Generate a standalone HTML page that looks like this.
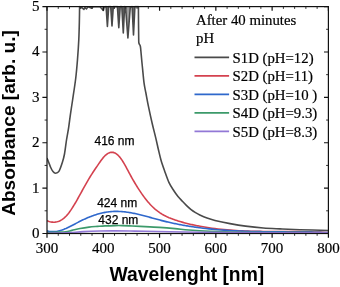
<!DOCTYPE html>
<html><head><meta charset="utf-8"><style>
html,body{margin:0;padding:0;background:#fff;width:340px;height:287px;overflow:hidden}
svg{display:block;will-change:transform}
</style></head><body>
<svg width="340" height="287" viewBox="0 0 340 287">
<defs><clipPath id="c"><rect x="47.0" y="5.6" width="281.4" height="227.9"/></clipPath></defs>
<g clip-path="url(#c)" fill="none" stroke-width="1.60" stroke-linejoin="round">
<path d="M47.00,158.10 C47.60,159.62 49.60,164.95 50.60,167.20 C51.60,169.45 52.18,170.60 53.00,171.60 C53.82,172.60 54.52,173.23 55.50,173.20 C56.48,173.17 57.75,173.22 58.90,171.40 C60.05,169.58 61.47,165.20 62.40,162.30 C63.33,159.40 63.82,157.72 64.50,154.00 C65.18,150.28 65.82,144.35 66.50,140.00 C67.18,135.65 67.93,132.25 68.60,127.90 C69.27,123.55 69.83,118.55 70.50,113.90 C71.17,109.25 71.73,105.90 72.60,100.00 C73.47,94.10 74.88,85.25 75.70,78.50 C76.52,71.75 76.98,66.00 77.50,59.50 C78.02,53.00 78.48,46.08 78.80,39.50 C79.12,32.92 79.27,25.48 79.40,20.00 C79.53,14.52 79.57,8.83 79.60,6.60 L79.60,6.60 L80.10,8.20 L81.00,6.80 L83.90,9.40 L85.00,7.50 L86.50,8.90 L88.00,6.80 L91.90,8.20 L93.00,6.80 L100.00,6.80 L102.50,9.50 L103.30,10.50 L104.20,7.00 L106.10,6.60 L107.40,26.50 L108.70,6.60 L110.70,6.60 L112.00,25.90 L113.30,6.60 L117.40,6.60 L118.80,27.60 L120.20,6.60 L121.80,6.60 L123.30,33.00 L124.60,6.60 L125.50,6.80 L127.90,38.00 L130.30,7.00 L132.10,6.60 L133.50,35.00 L134.90,6.60 L138.40,6.60 L138.40,6.60 C138.42,8.83 138.45,14.77 138.50,20.00 C138.55,25.23 138.63,34.17 138.70,38.00 C138.77,41.83 138.65,41.70 138.90,43.00 C139.15,44.30 139.90,44.80 140.20,45.80 C140.50,46.80 140.45,46.63 140.70,49.00 C140.95,51.37 141.40,56.83 141.70,60.00 C142.00,63.17 142.10,64.10 142.50,68.00 C142.90,71.90 143.53,79.23 144.10,83.40 C144.67,87.57 145.17,89.12 145.90,93.00 C146.63,96.88 147.45,101.62 148.50,106.70 C149.55,111.78 150.98,118.27 152.20,123.50 C153.42,128.73 154.75,133.68 155.80,138.10 C156.85,142.52 157.62,146.27 158.50,150.00 C159.38,153.73 160.08,157.02 161.10,160.50 C162.12,163.98 163.30,167.27 164.60,170.90 C165.90,174.53 167.38,179.03 168.90,182.30 C170.42,185.57 172.18,188.13 173.70,190.50 C175.22,192.87 176.55,194.70 178.00,196.50 C179.45,198.30 180.97,199.78 182.40,201.30 C183.83,202.82 185.15,204.22 186.60,205.60 C188.05,206.98 189.62,208.43 191.10,209.60 C192.58,210.77 194.05,211.70 195.50,212.60 C196.95,213.50 197.88,214.08 199.80,215.00 C201.72,215.92 204.47,217.18 207.00,218.10 C209.53,219.02 211.17,219.58 215.00,220.50 C218.83,221.42 224.90,222.67 230.00,223.60 C235.10,224.53 240.05,225.37 245.60,226.10 C251.15,226.83 257.57,227.53 263.30,228.00 C269.03,228.47 273.88,228.62 280.00,228.90 C286.12,229.18 291.93,229.43 300.00,229.70 C308.07,229.97 323.67,230.37 328.40,230.50" stroke="#4a4a4a"/>
<path d="M47.00,220.69 L48.00,221.09 L49.00,221.43 L50.00,221.71 L51.00,221.93 L52.00,222.09 L53.00,222.17 L54.00,222.19 L55.00,222.13 L56.00,222.01 L57.00,221.80 L58.00,221.52 L59.00,221.16 L60.00,220.71 L61.00,220.19 L62.00,219.57 L63.00,218.87 L64.00,218.07 L65.00,217.18 L66.00,216.20 L67.00,215.12 L68.00,213.94 L69.00,212.67 L70.00,211.31 L71.00,209.88 L72.00,208.37 L73.00,206.80 L74.00,205.18 L75.00,203.50 L76.00,201.78 L77.00,200.03 L78.00,198.25 L79.00,196.45 L80.00,194.63 L81.00,192.81 L82.00,190.99 L83.00,189.18 L84.00,187.38 L85.00,185.59 L86.00,183.83 L87.00,182.08 L88.00,180.36 L89.00,178.68 L90.00,177.02 L91.00,175.40 L92.00,173.82 L93.00,172.28 L94.00,170.77 L95.00,169.28 L96.00,167.80 L97.00,166.33 L98.00,164.86 L99.00,163.39 L100.00,161.93 L101.00,160.51 L102.00,159.16 L103.00,157.89 L104.00,156.73 L105.00,155.70 L106.00,154.80 L107.00,154.03 L108.00,153.39 L109.00,152.90 L110.00,152.55 L111.00,152.34 L112.00,152.29 L113.00,152.39 L114.00,152.64 L115.00,153.05 L116.00,153.61 L117.00,154.33 L118.00,155.20 L119.00,156.21 L120.00,157.38 L121.00,158.70 L122.00,160.15 L123.00,161.73 L124.00,163.40 L125.00,165.15 L126.00,166.97 L127.00,168.82 L128.00,170.69 L129.00,172.56 L130.00,174.42 L131.00,176.24 L132.00,178.03 L133.00,179.80 L134.00,181.52 L135.00,183.22 L136.00,184.88 L137.00,186.51 L138.00,188.10 L139.00,189.66 L140.00,191.18 L141.00,192.66 L142.00,194.10 L143.00,195.51 L144.00,196.87 L145.00,198.20 L146.00,199.48 L147.00,200.72 L148.00,201.92 L149.00,203.07 L150.00,204.18 L151.00,205.25 L152.00,206.27 L153.00,207.24 L154.00,208.17 L155.00,209.05 L156.00,209.89 L157.00,210.69 L158.00,211.45 L159.00,212.17 L160.00,212.86 L161.00,213.51 L162.00,214.13 L163.00,214.71 L164.00,215.27 L165.00,215.80 L166.00,216.31 L167.00,216.79 L168.00,217.24 L169.00,217.68 L170.00,218.09 L171.00,218.49 L172.00,218.87 L173.00,219.24 L174.00,219.59 L175.00,219.94 L176.00,220.27 L177.00,220.59 L178.00,220.91 L179.00,221.22 L180.00,221.52 L181.00,221.82 L182.00,222.11 L183.00,222.39 L184.00,222.66 L185.00,222.93 L186.00,223.19 L187.00,223.44 L188.00,223.69 L189.00,223.94 L190.00,224.17 L191.00,224.41 L192.00,224.63 L193.00,224.85 L194.00,225.07 L195.00,225.28 L196.00,225.49 L197.00,225.69 L198.00,225.89 L199.00,226.08 L200.00,226.27 L203.00,226.81 L206.00,227.31 L209.00,227.77 L212.00,228.20 L215.00,228.60 L218.00,228.96 L221.00,229.29 L224.00,229.59 L227.00,229.87 L230.00,230.11 L233.00,230.33 L236.00,230.53 L239.00,230.70 L242.00,230.86 L245.00,230.99 L248.00,231.10 L251.00,231.20 L254.00,231.29 L257.00,231.36 L260.00,231.41 L263.00,231.46 L266.00,231.49 L269.00,231.52 L272.00,231.54 L275.00,231.56 L278.00,231.57 L281.00,231.58 L284.00,231.59 L287.00,231.60 L290.00,231.61 L293.00,231.63 L296.00,231.65 L299.00,231.67 L302.00,231.71 L305.00,231.75 L308.00,231.80 L311.00,231.87 L314.00,231.95 L317.00,232.04 L320.00,232.15 L323.00,232.28 L326.00,232.43 L328.40,232.56" stroke="#d4424f"/>
<path d="M47.00,230.84 L48.00,231.11 L49.00,231.32 L50.00,231.48 L51.00,231.59 L52.00,231.65 L53.00,231.66 L54.00,231.63 L55.00,231.56 L56.00,231.44 L57.00,231.29 L58.00,231.09 L59.00,230.86 L60.00,230.60 L61.00,230.31 L62.00,229.99 L63.00,229.63 L64.00,229.26 L65.00,228.85 L66.00,228.43 L67.00,227.98 L68.00,227.52 L69.00,227.04 L70.00,226.54 L71.00,226.04 L72.00,225.52 L73.00,225.00 L74.00,224.47 L75.00,223.94 L76.00,223.41 L77.00,222.88 L78.00,222.35 L79.00,221.83 L80.00,221.32 L81.00,220.81 L82.00,220.32 L83.00,219.84 L84.00,219.37 L85.00,218.91 L86.00,218.46 L87.00,218.03 L88.00,217.60 L89.00,217.19 L90.00,216.79 L91.00,216.41 L92.00,216.03 L93.00,215.67 L94.00,215.32 L95.00,214.98 L96.00,214.66 L97.00,214.35 L98.00,214.06 L99.00,213.78 L100.00,213.51 L101.00,213.26 L102.00,213.03 L103.00,212.80 L104.00,212.60 L105.00,212.41 L106.00,212.23 L107.00,212.07 L108.00,211.93 L109.00,211.80 L110.00,211.69 L111.00,211.60 L112.00,211.52 L113.00,211.46 L114.00,211.41 L115.00,211.39 L116.00,211.37 L117.00,211.38 L118.00,211.40 L119.00,211.43 L120.00,211.48 L121.00,211.54 L122.00,211.61 L123.00,211.70 L124.00,211.80 L125.00,211.91 L126.00,212.03 L127.00,212.17 L128.00,212.31 L129.00,212.47 L130.00,212.63 L131.00,212.80 L132.00,212.99 L133.00,213.18 L134.00,213.38 L135.00,213.59 L136.00,213.80 L137.00,214.03 L138.00,214.26 L139.00,214.49 L140.00,214.73 L141.00,214.98 L142.00,215.23 L143.00,215.48 L144.00,215.74 L145.00,216.01 L146.00,216.27 L147.00,216.54 L148.00,216.81 L149.00,217.08 L150.00,217.36 L151.00,217.63 L152.00,217.91 L153.00,218.19 L154.00,218.46 L155.00,218.74 L156.00,219.01 L157.00,219.29 L158.00,219.56 L159.00,219.83 L160.00,220.09 L161.00,220.36 L162.00,220.61 L163.00,220.87 L164.00,221.12 L165.00,221.37 L166.00,221.61 L167.00,221.85 L168.00,222.09 L169.00,222.32 L170.00,222.55 L171.00,222.77 L172.00,222.99 L173.00,223.21 L174.00,223.42 L175.00,223.63 L176.00,223.84 L177.00,224.04 L178.00,224.24 L179.00,224.44 L180.00,224.63 L181.00,224.82 L182.00,225.00 L183.00,225.19 L184.00,225.37 L185.00,225.54 L186.00,225.71 L187.00,225.88 L188.00,226.05 L189.00,226.21 L190.00,226.37 L191.00,226.53 L192.00,226.68 L193.00,226.83 L194.00,226.98 L195.00,227.12 L196.00,227.26 L197.00,227.40 L198.00,227.54 L199.00,227.67 L200.00,227.80 L203.00,228.17 L206.00,228.52 L209.00,228.85 L212.00,229.15 L215.00,229.43 L218.00,229.69 L221.00,229.93 L224.00,230.15 L227.00,230.36 L230.00,230.54 L233.00,230.71 L236.00,230.87 L239.00,231.01 L242.00,231.13 L245.00,231.24 L248.00,231.34 L251.00,231.43 L254.00,231.51 L257.00,231.58 L260.00,231.64 L263.00,231.69 L266.00,231.74 L269.00,231.78 L272.00,231.81 L275.00,231.84 L278.00,231.87 L281.00,231.89 L284.00,231.91 L287.00,231.94 L290.00,231.96 L293.00,231.98 L296.00,232.00 L299.00,232.03 L302.00,232.06 L305.00,232.09 L308.00,232.13 L311.00,232.17 L314.00,232.22 L317.00,232.28 L320.00,232.35 L323.00,232.43 L326.00,232.51 L328.40,232.59" stroke="#2f68cc"/>
<path d="M47.00,232.60 C48.33,232.57 52.50,232.50 55.00,232.40 C57.50,232.30 60.17,232.10 62.00,232.00 C63.83,231.90 64.33,232.07 66.00,231.80 C67.67,231.53 69.67,230.95 72.00,230.40 C74.33,229.85 77.17,229.05 80.00,228.50 C82.83,227.95 86.07,227.45 89.00,227.10 C91.93,226.75 94.93,226.60 97.60,226.40 C100.27,226.20 102.05,226.03 105.00,225.90 C107.95,225.77 112.47,225.65 115.30,225.60 C118.13,225.55 119.55,225.55 122.00,225.60 C124.45,225.65 127.00,225.77 130.00,225.90 C133.00,226.03 135.10,226.15 140.00,226.40 C144.90,226.65 153.57,227.03 159.40,227.40 C165.23,227.77 170.10,228.17 175.00,228.60 C179.90,229.03 182.97,229.55 188.80,230.00 C194.63,230.45 201.47,230.93 210.00,231.30 C218.53,231.67 226.67,231.98 240.00,232.20 C253.33,232.42 275.27,232.52 290.00,232.60 C304.73,232.68 322.00,232.68 328.40,232.70" stroke="#3c9a6a"/>
<path d="M47.00,233.20 C49.17,233.17 56.17,233.10 60.00,233.00 C63.83,232.90 66.08,232.83 70.00,232.60 C73.92,232.37 78.50,231.87 83.50,231.60 C88.50,231.33 94.75,231.12 100.00,231.00 C105.25,230.88 110.00,230.90 115.00,230.90 C120.00,230.90 125.00,230.93 130.00,231.00 C135.00,231.07 138.33,231.17 145.00,231.30 C151.67,231.43 160.83,231.65 170.00,231.80 C179.17,231.95 188.33,232.07 200.00,232.20 C211.67,232.33 218.60,232.48 240.00,232.60 C261.40,232.72 313.67,232.85 328.40,232.90" stroke="#9278d6"/>
<path d="M106.10,6.6 L107.40,26.50 L108.70,6.6 Z" fill="#4a4a4a" fill-opacity="0.85" stroke="none"/>
<path d="M110.70,6.6 L112.00,25.90 L113.30,6.6 Z" fill="#4a4a4a" fill-opacity="0.85" stroke="none"/>
<path d="M117.40,6.6 L118.80,27.60 L120.20,6.6 Z" fill="#4a4a4a" fill-opacity="0.85" stroke="none"/>
<path d="M121.80,6.6 L123.30,33.00 L124.60,6.6 Z" fill="#4a4a4a" fill-opacity="0.85" stroke="none"/>
<path d="M125.50,6.6 L127.90,38.00 L130.30,6.6 Z" fill="#4a4a4a" fill-opacity="0.55" stroke="none"/>
<path d="M132.10,6.6 L133.50,35.00 L134.90,6.6 Z" fill="#4a4a4a" fill-opacity="0.85" stroke="none"/>
<path d="M102.00,6.6 L103.30,10.50 L104.20,6.6 Z" fill="#4a4a4a" fill-opacity="0.60" stroke="none"/>
</g>
<path d="M47.00,233.50 V237.70 M47.00,6.60 V10.80 M103.28,233.50 V237.70 M103.28,6.60 V10.80 M159.56,233.50 V237.70 M159.56,6.60 V10.80 M215.84,233.50 V237.70 M215.84,6.60 V10.80 M272.12,233.50 V237.70 M272.12,6.60 V10.80 M328.40,233.50 V237.70 M328.40,6.60 V10.80 M47.00,233.50 H42.40 M328.40,233.50 H324.00 M47.00,188.12 H42.40 M328.40,188.12 H324.00 M47.00,142.74 H42.40 M328.40,142.74 H324.00 M47.00,97.36 H42.40 M328.40,97.36 H324.00 M47.00,51.98 H42.40 M328.40,51.98 H324.00 M47.00,6.60 H42.40 M328.40,6.60 H324.00" stroke="#111" stroke-width="1.2" fill="none"/>
<path d="M58.26,233.50 V235.80 M58.26,6.60 V8.90 M69.51,233.50 V235.80 M69.51,6.60 V8.90 M80.77,233.50 V235.80 M80.77,6.60 V8.90 M92.02,233.50 V235.80 M92.02,6.60 V8.90 M114.54,233.50 V235.80 M114.54,6.60 V8.90 M125.79,233.50 V235.80 M125.79,6.60 V8.90 M137.05,233.50 V235.80 M137.05,6.60 V8.90 M148.30,233.50 V235.80 M148.30,6.60 V8.90 M170.82,233.50 V235.80 M170.82,6.60 V8.90 M182.07,233.50 V235.80 M182.07,6.60 V8.90 M193.33,233.50 V235.80 M193.33,6.60 V8.90 M204.58,233.50 V235.80 M204.58,6.60 V8.90 M227.10,233.50 V235.80 M227.10,6.60 V8.90 M238.35,233.50 V235.80 M238.35,6.60 V8.90 M249.61,233.50 V235.80 M249.61,6.60 V8.90 M260.86,233.50 V235.80 M260.86,6.60 V8.90 M283.38,233.50 V235.80 M283.38,6.60 V8.90 M294.63,233.50 V235.80 M294.63,6.60 V8.90 M305.89,233.50 V235.80 M305.89,6.60 V8.90 M317.14,233.50 V235.80 M317.14,6.60 V8.90 M47.00,210.81 H44.60 M328.40,210.81 H326.10 M47.00,165.43 H44.60 M328.40,165.43 H326.10 M47.00,120.05 H44.60 M328.40,120.05 H326.10 M47.00,74.67 H44.60 M328.40,74.67 H326.10 M47.00,29.29 H44.60 M328.40,29.29 H326.10" stroke="#333" stroke-width="1.0" fill="none"/>
<rect x="47.00" y="6.60" width="281.40" height="226.90" fill="none" stroke="#111" stroke-width="1.20"/>
<g font-family="Liberation Serif" font-size="15" fill="#000" stroke="#000" stroke-width="0.2"><text x="47.00" y="252.5" text-anchor="middle">300</text><text x="103.28" y="252.5" text-anchor="middle">400</text><text x="159.56" y="252.5" text-anchor="middle">500</text><text x="215.84" y="252.5" text-anchor="middle">600</text><text x="272.12" y="252.5" text-anchor="middle">700</text><text x="328.40" y="252.5" text-anchor="middle">800</text><text x="39.5" y="237.90" text-anchor="end">0</text><text x="39.5" y="192.52" text-anchor="end">1</text><text x="39.5" y="147.14" text-anchor="end">2</text><text x="39.5" y="101.76" text-anchor="end">3</text><text x="39.5" y="56.38" text-anchor="end">4</text><text x="39.5" y="11.00" text-anchor="end">5</text></g>
<text x="186.9" y="280.7" text-anchor="middle" font-family="Liberation Sans" font-weight="bold" font-size="19.3" fill="#000">Wavelenght [nm]</text>
<text transform="translate(15,123) rotate(-90)" x="0" y="0" text-anchor="middle" font-family="Liberation Sans" font-weight="bold" font-size="19.1" fill="#000">Absorbance [arb. u.]</text>
<g font-family="Liberation Sans" font-size="12" fill="#000" stroke="#000" stroke-width="0.25"><text x="94.5" y="145.1">416 nm</text><text x="97.2" y="206.8">424 nm</text><text x="98.3" y="224">432 nm</text></g>
<g font-family="Liberation Serif" font-size="14.8" fill="#000" stroke="#000" stroke-width="0.2"><text x="196" y="24.8">After 40 minutes</text><text x="196" y="43.3">pH</text><path d="M194.5,57.30 H229.1" stroke="#4a4a4a" stroke-width="1.7"/><text x="232.5" y="62.50">S1D (pH=12)</text><path d="M194.5,75.80 H229.1" stroke="#d4424f" stroke-width="1.7"/><text x="232.5" y="81.00">S2D (pH=11)</text><path d="M194.5,94.30 H229.1" stroke="#2f68cc" stroke-width="1.7"/><text x="232.5" y="99.50">S3D (pH=10 )</text><path d="M194.5,112.80 H229.1" stroke="#3c9a6a" stroke-width="1.7"/><text x="232.5" y="118.00">S4D (pH=9.3)</text><path d="M194.5,131.30 H229.1" stroke="#9278d6" stroke-width="1.7"/><text x="232.5" y="136.50">S5D (pH=8.3)</text></g>
</svg>
</body></html>
